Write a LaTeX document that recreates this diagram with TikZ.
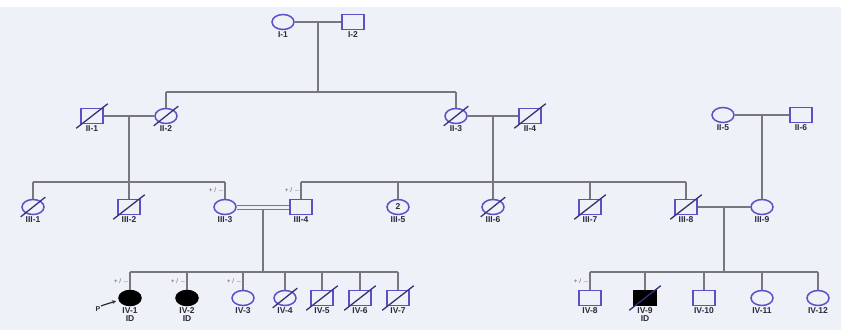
\documentclass[tikz,border=0pt]{standalone}
\usepackage{fontspec}
\setsansfont{Liberation Sans}
\usetikzlibrary{calc,shapes.geometric,arrows.meta}
\definecolor{bg}{HTML}{EEF1F8}
\definecolor{symb}{HTML}{5A50C8}
\definecolor{lnc}{HTML}{77777F}
\definecolor{labc}{HTML}{2A2A38}
\tikzset{
  sym/.style={draw=symb,line width=1.5pt,inner sep=0pt,minimum width=22pt,minimum height=15pt},
  fem/.style={sym,ellipse},
  mal/.style={sym,rectangle},
  aff/.style={fill=black,draw=black},
  lab/.style={font=\fontsize{8.5}{8.5}\selectfont\sffamily\bfseries,text=labc,align=center,inner sep=1pt},
  gen/.style={font=\fontsize{6.5}{6.5}\selectfont\sffamily,text=labc!75,inner sep=0pt,anchor=south east},
  ln/.style={draw=lnc,line width=1.2pt},
  slash/.style={draw=symb!60!black,line width=1.3pt},
}
\newcommand{\dead}[1]{\draw[slash] ($(#1.south west)+(-4,4)$) -- ($(#1.north east)+(4,-4)$);}
\begin{document}
\begin{tikzpicture}[x=1pt,y=-1pt]
\fill[bg] (0,0) rectangle (841,330);
\fill[white] (0,0) rectangle (841,7);
\useasboundingbox (0,0) rectangle (841,330);
% Generation I
\node[fem,label={[lab]below:I-1}] (I1) at (283,22) {};
\node[mal,label={[lab]below:I-2}] (I2) at (353,22) {};
% Generation II
\node[mal,label={[lab]below:II-1}] (II1) at (92,116) {};
\node[fem,label={[lab]below:II-2}] (II2) at (166,116) {};
\node[fem,label={[lab]below:II-3}] (II3) at (456,116) {};
\node[mal,label={[lab]below:II-4}] (II4) at (530,116) {};
\node[fem,label={[lab]below:II-5}] (II5) at (723,115) {};
\node[mal,label={[lab]below:II-6}] (II6) at (801,115) {};
% Generation III
\node[fem,label={[lab]below:III-1}] (III1) at (33,207) {};
\node[mal,label={[lab]below:III-2}] (III2) at (129,207) {};
\node[fem,label={[lab]below:III-3}] (III3) at (225,207) {};
\node[mal,label={[lab]below:III-4}] (III4) at (301,207) {};
\node[fem,label={[lab]below:III-5},font=\fontsize{8.5}{8.5}\selectfont\sffamily\bfseries,text=labc] (III5) at (398,207) {2};
\node[fem,label={[lab]below:III-6}] (III6) at (493,207) {};
\node[mal,label={[lab]below:III-7}] (III7) at (590,207) {};
\node[mal,label={[lab]below:III-8}] (III8) at (686,207) {};
\node[fem,label={[lab]below:III-9}] (III9) at (762,207) {};
% Generation IV
\node[fem,aff,label={[lab]below:IV-1\\ID}] (IV1) at (130,298) {};
\node[fem,aff,label={[lab]below:IV-2\\ID}] (IV2) at (187,298) {};
\node[fem,label={[lab]below:IV-3}] (IV3) at (243,298) {};
\node[fem,label={[lab]below:IV-4}] (IV4) at (285,298) {};
\node[mal,label={[lab]below:IV-5}] (IV5) at (322,298) {};
\node[mal,label={[lab]below:IV-6}] (IV6) at (360,298) {};
\node[mal,label={[lab]below:IV-7}] (IV7) at (398,298) {};
\node[mal,label={[lab]below:IV-8}] (IV8) at (590,298) {};
\node[mal,aff,label={[lab]below:IV-9\\ID}] (IV9) at (645,298) {};
\node[mal,label={[lab]below:IV-10}] (IV10) at (704,298) {};
\node[fem,label={[lab]below:IV-11}] (IV11) at (762,298) {};
\node[fem,label={[lab]below:IV-12}] (IV12) at (818,298) {};
% deceased
\dead{II1}\dead{II2}\dead{II3}\dead{II4}
\dead{III1}\dead{III2}\dead{III6}\dead{III7}\dead{III8}
\dead{IV4}\dead{IV5}\dead{IV6}\dead{IV7}\dead{IV9}
% coordinates
\coordinate (mI) at ($(I1)!0.5!(I2)$);
\coordinate (sIa) at (166,92);
\coordinate (sIb) at (456,92);
\coordinate (mII12) at ($(II1)!0.5!(II2)$);
\coordinate (mII34) at ($(II3)!0.5!(II4)$);
\coordinate (mII56) at ($(II5)!0.5!(II6)$);
\coordinate (sIIa) at (33,182);
\coordinate (sIIb) at (225,182);
\coordinate (sIIc) at (301,182);
\coordinate (sIId) at (686,182);
\coordinate (mIII34) at ($(III3)!0.5!(III4)$);
\coordinate (mIII89) at ($(III8)!0.5!(III9)$);
\coordinate (sIIIa) at (130,272);
\coordinate (sIIIb) at (398,272);
\coordinate (sIIIc) at (590,272);
\coordinate (sIIId) at (818,272);
% lines gen I
\draw[ln] (I1) -- (I2);
\draw[ln] (mI) -- (mI |- sIa);
\draw[ln] (sIa) -- (sIb);
\draw[ln] (sIa) -- (II2.north);
\draw[ln] (sIb) -- (II3.north);
% gen II
\draw[ln] (II1) -- (II2);
\draw[ln] (II3) -- (II4);
\draw[ln] (II5) -- (II6);
\draw[ln] (mII12) -- (mII12 |- sIIa);
\draw[ln] (mII34) -- (mII34 |- sIIc);
\draw[ln] (mII56) -- (III9.north);
\draw[ln] (sIIa) -- (sIIb);
\draw[ln] (sIIc) -- (sIId);
\foreach \n in {III1,III2,III3}{\draw[ln] (\n |- sIIa) -- (\n.north);}
\foreach \n in {III4,III5,III6,III7,III8}{\draw[ln] (\n |- sIIc) -- (\n.north);}
% gen III
\draw[ln,line width=1pt] ($(III3.east)+(0,-2)$) -- ($(III4.west)+(0,-2)$);
\draw[ln,line width=1pt] ($(III3.east)+(0,2)$) -- ($(III4.west)+(0,2)$);
\draw[ln] ($(mIII34)+(0,2)$) -- (mIII34 |- sIIIa);
\draw[ln] (III8) -- (III9);
\draw[ln] (mIII89) -- (mIII89 |- sIIIc);
\draw[ln] (sIIIa) -- (sIIIb);
\draw[ln] (sIIIc) -- (sIIId);
\foreach \n in {IV1,IV2,IV3,IV4,IV5,IV6,IV7}{\draw[ln] (\n |- sIIIa) -- (\n.north);}
\foreach \n in {IV8,IV9,IV10,IV11,IV12}{\draw[ln] (\n |- sIIIc) -- (\n.north);}
% genotype marks
\node[gen] (gIII3) at ($(III3.north)+(-1,-5)$) {+ / $-$};
\node[gen] (gIII4) at ($(III4.north)+(-1,-5)$) {+ / $-$};
\node[gen] (gIV1) at ($(IV1.north)+(-1,-5)$) {+ / $-$};
\node[gen] (gIV2) at ($(IV2.north)+(-1,-5)$) {+ / $-$};
\node[gen] (gIV3) at ($(IV3.north)+(-1,-5)$) {+ / $-$};
\node[gen] (gIV8) at ($(IV8.north)+(-1,-5)$) {+ / $-$};
% proband
\node[font=\fontsize{7}{7}\selectfont\sffamily\bfseries,text=labc,inner sep=0.5pt] (P) at (98,309) {P};
\coordinate (Ptip) at (116,301);
\draw[-{Stealth[length=4pt,width=4pt]},line width=1.2pt,draw=labc] (P.north east) -- (Ptip);
\end{tikzpicture}
\end{document}
